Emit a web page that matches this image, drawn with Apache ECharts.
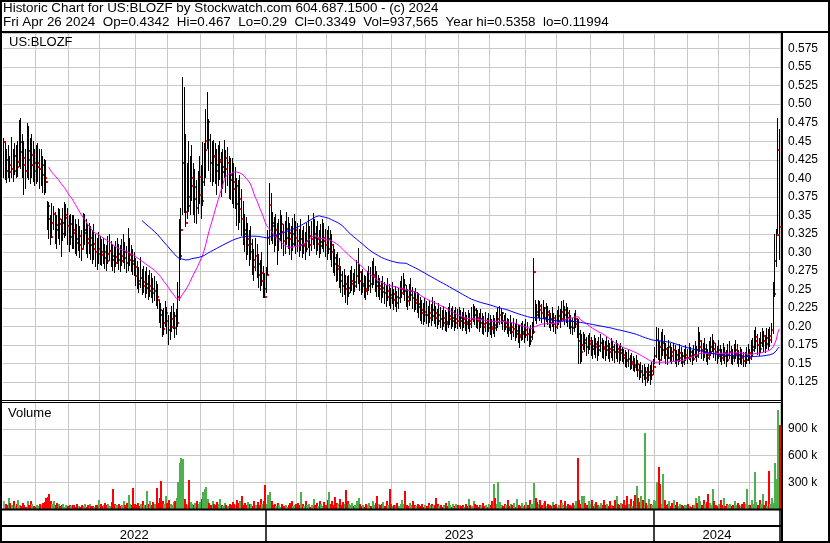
<!DOCTYPE html>
<html><head><meta charset="utf-8">
<script src="https://cdn.jsdelivr.net/npm/echarts@6/dist/echarts.min.js"></script>
<style>html,body{margin:0;padding:0;background:#fff}#chart{width:830px;height:543px}</style>
</head><body><div id="chart"></div>
<script>
const FONT = '"Liberation Sans", Arial, sans-serif';
const headerLine1 = 'Historic Chart for US:BLOZF by Stockwatch.com 604.687.1500 - (c) 2024';
const headerLine2 = 'Fri Apr 26 2024  Op=0.4342  Hi=0.467  Lo=0.29  Cl=0.3349  Vol=937,565  Year hi=0.5358  lo=0.11994';
const symbolLabel = 'US:BLOZF';
const volumeLabel = 'Volume';

// trading days: weekdays 2022-05-02 .. 2024-04-26 minus market holidays
const firstDay = '2022-05-02';
const lastDay = '2024-04-26';
const holidays = ['2022-05-30','2022-06-20','2022-07-04','2022-09-05','2022-11-24','2022-12-26',
  '2023-01-02','2023-01-16','2023-02-20','2023-04-07','2023-05-29','2023-06-19','2023-07-04','2023-09-04','2023-11-23','2023-12-25',
  '2024-01-01','2024-01-15','2024-02-19','2024-03-29'];

// prices in thousandths of a dollar
const highMil = [
455,450,440,445,430,456,440,448,445,450,478,481,460,450,440,474,470,455,460,450,440,445,448,440,440,430,426,425,
370,368,350,366,362,355,350,360,358,345,360,368,365,360,350,352,350,
350,345,338,345,335,330,353,352,345,338,340,335,330,338,325,320,328,322,
318,320,312,310,322,325,315,312,308,316,320,312,310,318,325,314,308,333,320,310,305,300,
292,288,280,294,278,282,275,280,270,276,272,265,268,262,258,
236,232,222,225,235,226,215,220,228,232,220,224,
260,345,360,536,523,460,420,450,430,445,
420,412,398,410,430,418,449,448,
494,516,480,460,450,
452,448,440,445,450,435,440,452,438,442,430,428,
428,420,415,400,398,405,385,370,352,
348,340,330,335,318,305,320,312,298,290,300,282,272,
280,330,393,380,355,348,352,340,345,357,350,338,342,355,348,340,335,346,352,343,
340,332,345,330,336,328,340,350,335,342,353,345,335,342,330,338,345,340,332,330,
335,330,325,312,305,298,300,292,282,275,278,270,268,
270,276,282,272,278,290,306,285,275,278,270,268,275,282,280,288,293,282,275,
270,266,262,268,260,256,265,258,252,260,250,255,248,252,262,268,272,264,256,250,258,266,254,248,252,246,
245,240,236,232,238,234,228,236,230,240,235,228,224,232,226,222,228,222,220,226,232,225,228,222,226,224,
226,222,220,225,220,216,222,218,226,230,228,225,222,218,224,218,214,220,212,218,215,210,216,212,220,225,228,223,220,
215,218,212,210,216,206,212,205,210,204,202,205,208,203,210,206,198,202,206,
292,
236,230,236,234,230,236,226,232,228,222,218,226,218,215,222,228,224,234,236,228,232,226,222,215,212,218,222,
212,210,195,190,
192,190,186,188,191,186,182,188,184,180,186,190,184,182,180,186,182,178,184,180,176,182,178,175,178,
172,170,168,165,168,162,164,160,158,162,155,150,152,148,150,145,146,150,148,152,156,
172,200,198,180,192,196,188,178,172,182,178,172,178,175,168,170,176,172,166,170,
175,170,178,172,168,175,180,174,200,192,182,178,185,176,170,180,186,190,182,178,174,182,175,170,178,172,168,176,180,174,170,176,182,176,168,172,170,165,166,172,176,170,182,
185,195,200,190,184,192,198,194,188,198,196,200,205,
260,325,332,481,467];

const lowMil = [
400,398,394,400,395,400,395,405,400,402,415,412,400,378,385,400,398,392,400,395,390,392,395,385,390,380,378,380,
330,318,310,320,330,312,305,318,310,294,315,320,322,310,300,310,305,
305,298,295,302,292,288,305,310,298,292,298,290,285,290,280,276,285,283,
282,285,278,275,284,288,280,275,272,280,284,276,274,282,286,278,272,275,282,274,270,268,
255,250,245,252,242,245,238,244,236,240,238,232,234,228,224,
205,198,186,188,200,190,175,182,192,196,184,188,
200,235,290,350,353,334,345,355,350,370,
350,340,338,352,365,345,362,390,
400,440,410,395,390,
395,392,378,390,398,375,385,400,380,390,372,371,
365,360,358,335,330,340,322,310,300,
290,296,282,290,270,262,275,265,252,248,255,238,238,
245,270,310,315,312,300,308,283,302,315,305,295,298,310,305,296,290,302,308,298,
300,294,302,292,298,290,300,306,295,302,310,305,296,302,292,298,305,300,294,290,
298,290,280,272,268,260,262,252,245,240,242,232,229,
240,245,248,242,246,252,258,248,242,245,238,236,242,248,245,252,256,246,240,
240,236,232,238,230,226,234,228,224,230,222,226,220,224,232,238,242,234,226,222,228,234,224,220,222,218,
212,208,204,202,206,203,200,205,201,208,204,200,196,202,198,195,200,194,192,198,202,196,200,194,198,196,
200,196,194,198,194,190,196,192,198,206,202,198,196,192,198,190,188,192,186,192,188,185,190,186,194,198,202,204,195,
192,195,190,186,190,182,186,180,184,178,171,180,182,178,185,180,172,175,182,
190,
208,204,212,208,205,210,200,206,202,198,194,200,192,190,196,202,198,206,208,202,205,200,196,190,188,192,198,
185,150,150,152,
168,165,160,163,168,160,156,162,158,154,160,165,158,156,153,160,156,152,158,154,151,156,152,150,154,
152,150,146,144,146,142,143,140,138,140,132,128,130,124,128,120,124,126,121,128,134,
150,158,155,148,154,160,156,150,148,156,152,150,154,150,146,148,152,150,145,148,
154,150,155,152,148,153,158,152,158,165,156,154,158,152,148,155,160,165,158,154,150,156,152,148,154,150,146,152,156,150,148,152,156,150,146,150,148,145,146,150,154,150,155,
160,165,170,162,160,164,172,166,164,170,168,173,178,
190,240,280,325,290];

const closeMil = [
449,425,410,418,409,412,410,430,415,422,449,435,428,418,410,437,425,418,432,420,410,415,420,412,418,405,400,395,
362,345,321,340,352,337,330,345,338,325,340,347,350,335,321,338,330,
326,318,313,322,310,305,326,330,318,313,320,310,305,312,300,298,305,300,
296,300,292,288,298,302,295,290,286,294,298,290,288,295,300,292,286,290,296,288,285,280,
268,262,258,265,255,260,252,258,248,255,250,245,248,240,236,
222,215,196,205,218,208,195,200,210,214,198,205,
240,295,330,420,355,340,375,362,389,400,
372,388,360,378,402,370,395,438,
450,476,452,420,430,
429,418,410,422,425,408,415,428,412,420,405,398,
395,385,390,365,358,372,345,330,325,
310,318,300,312,290,280,295,285,270,262,272,250,240,
270,320,364,340,335,322,330,318,325,338,328,315,320,332,326,318,312,325,330,320,
316,310,318,308,312,305,315,322,310,318,325,320,312,318,308,314,320,315,310,305,
318,310,300,292,285,278,282,270,262,255,258,250,245,
252,258,262,255,260,268,273,262,255,258,250,248,255,262,258,268,270,260,255,
255,250,246,252,245,240,248,242,238,244,236,240,232,238,245,250,256,248,240,235,242,248,238,232,236,230,
226,222,218,215,220,216,212,218,214,222,218,212,208,215,210,205,212,206,203,210,214,208,212,205,210,208,
212,208,205,210,206,203,208,204,210,222,216,212,208,205,210,203,200,205,198,204,200,196,202,198,206,210,215,218,208,
200,205,198,195,200,192,196,190,194,188,186,190,192,188,195,190,180,186,192,
274,
220,215,228,222,218,225,212,220,215,210,205,212,203,200,208,214,210,220,222,215,218,212,208,200,198,204,210,
190,180,165,175,
182,178,172,176,180,174,170,176,172,168,174,178,172,170,168,174,170,166,172,168,165,170,166,164,168,
162,158,155,153,156,150,152,148,146,150,142,138,140,135,138,131,135,138,135,140,145,
160,182,172,155,168,178,170,162,158,172,165,160,168,162,155,158,164,160,152,158,
162,158,165,160,156,162,168,160,172,180,168,165,170,162,158,166,172,178,170,165,160,168,162,158,164,160,155,162,166,160,158,163,168,162,156,160,158,153,155,160,164,158,168,
172,180,186,175,170,178,187,180,176,185,182,187,195,
244,288,324,438,334.9];

// daily volume in thousands of shares
const volumeK = [
95,60,45,120,70,40,85,35,55,100,50,30,65,40,25,90,45,95,60,35,20,45,30,55,40,65,75,120,
130,170,90,60,95,40,70,55,30,45,60,25,40,35,50,30,45,
40,25,55,35,20,45,30,60,25,40,55,30,35,20,50,45,100,60,
35,50,70,40,55,30,80,225,60,40,45,60,35,50,90,45,70,160,55,40,240,60,
45,70,30,55,90,50,40,205,60,95,45,80,60,240,70,
120,317,90,60,150,70,100,55,40,80,95,120,
306,520,568,560,110,60,45,320,80,55,
40,70,95,60,80,110,195,225,245,110,70,45,90,
60,40,75,55,110,50,35,70,45,30,55,40,
80,60,45,100,65,90,150,50,70,
45,80,55,60,30,95,50,75,40,110,60,85,270,
60,157,194,90,40,55,30,70,45,25,60,35,50,20,40,65,90,30,45,55,
70,40,194,55,30,85,45,60,25,50,110,40,70,35,90,55,30,80,45,100,
194,60,95,40,130,70,55,110,45,80,60,213,90,
55,40,70,30,50,85,120,60,35,45,25,55,40,65,30,95,50,70,150,
60,40,55,80,35,90,45,225,60,30,50,40,70,35,55,100,60,200,45,30,65,40,85,50,35,60,
45,30,60,25,50,35,70,40,55,30,45,120,60,35,50,25,40,65,30,90,45,20,55,35,60,40,
50,30,45,25,60,35,110,45,30,90,60,40,25,50,35,70,30,45,20,55,40,90,280,120,60,306,80,45,35,
60,40,100,30,55,45,70,25,110,50,35,65,30,45,80,40,100,55,60,
295,
120,80,55,100,40,70,90,35,60,45,30,75,40,55,25,50,100,65,40,85,30,60,45,35,70,50,90,
576,100,60,150,
150,70,40,90,55,100,35,60,80,45,30,70,50,100,40,60,35,90,45,30,100,145,60,40,70,
55,100,45,145,60,110,35,90,160,258,120,80,150,100,852,70,45,110,60,40,100,
90,306,474,280,60,390,100,40,55,90,30,70,100,45,80,35,60,40,30,50,
45,60,35,25,50,40,120,70,150,90,45,100,60,80,165,70,40,225,90,50,30,60,100,45,120,35,55,40,60,30,45,90,50,70,40,35,55,80,60,225,50,40,100,
60,410,80,45,100,55,165,40,90,35,425,60,120,
70,519,336,1110,937.565];

const maShort = 30, maLong = 90;

function buildDates() {
  const out = [];
  let t = Date.parse(firstDay + 'T00:00:00Z');
  const end = Date.parse(lastDay + 'T00:00:00Z');
  while (t <= end) {
    const d = new Date(t);
    const wd = d.getUTCDay();
    const s = d.toISOString().slice(0, 10);
    if (wd !== 0 && wd !== 6 && holidays.indexOf(s) < 0) out.push(s);
    t += 86400000;
  }
  return out;
}
const dates = buildDates();
const N = dates.length;
[highMil, lowMil, closeMil, volumeK].forEach((a, k) => {
  if (a.length !== N) throw new Error('length mismatch ' + k + ': ' + a.length + ' vs ' + N);
});

const high = highMil.map(v => v / 1000);
const low = lowMil.map(v => v / 1000);
const close = closeMil.map(v => v / 1000);
const volume = volumeK.map(v => v * 1000);

function sma(arr, n) {
  const out = [];
  let sum = 0;
  for (let i = 0; i < arr.length; i++) {
    sum += arr[i];
    if (i >= n) sum -= arr[i - n];
    out.push(i >= n - 1 ? +(sum / n).toFixed(5) : null);
  }
  return out;
}
const maS = sma(close, maShort);
const maL = sma(close, maLong);

const monthStart = new Set();
const yearStart = new Set();
const yearMid = new Set();
let segStart = 0;
for (let i = 1; i <= N; i++) {
  if (i < N && dates[i].slice(0, 7) !== dates[i - 1].slice(0, 7)) monthStart.add(i);
  if (i === N || dates[i].slice(0, 4) !== dates[i - 1].slice(0, 4)) {
    if (i < N) yearStart.add(i);
    yearMid.add(Math.floor((segStart + i - 1) / 2));
    segStart = i;
  }
}

const ohlc = dates.map((d, i) => [i, high[i], low[i], close[i]]);
const volColor = volume.map((v, i) => {
  if (i > 0 && close[i] > close[i - 1]) return '#4cb04c';
  if (i > 0 && close[i] < close[i - 1]) return '#ff0000';
  return '#a0a0a0';
});
const volData = volume.map((v, i) => [i, v]);

function priceLabel(v) {
  const s = v.toFixed(3);
  return s.charAt(s.length - 1) === '0' ? v.toFixed(2) : s;
}

const GRID_COLOR = '#c8c8c8';
const chart = echarts.init(document.getElementById('chart'), null, { renderer: 'canvas' });
const txt = { fontFamily: FONT, fontSize: 12, fontWeight: 'normal', color: '#000' };

const L = (x1, y1, x2, y2, w) => ({ type: 'line', z: 100, shape: { x1, y1, x2, y2 }, style: { stroke: '#000', lineWidth: w } });

chart.setOption({
  animation: false,
  backgroundColor: '#fff',
  title: [
    { text: headerLine1, left: 3, top: 2, padding: 0, textStyle: Object.assign({}, txt, { fontSize: 13.4 }) },
    { text: headerLine2, left: 3, top: 16, padding: 0, textStyle: Object.assign({}, txt, { fontSize: 13.4 }) },
    { text: symbolLabel, left: 9, top: 36, padding: 0, textStyle: Object.assign({}, txt, { fontSize: 13 }) },
    { text: volumeLabel, left: 8, top: 407, padding: 0, textStyle: Object.assign({}, txt, { fontSize: 13 }) }
  ],
  grid: [
    { left: 3, top: 33, width: 777, height: 367.65 },
    { left: 3, top: 402, width: 777, height: 107 }
  ],
  xAxis: [
    { type: 'category', gridIndex: 0, data: dates, boundaryGap: true,
      axisLine: { show: false }, axisTick: { show: false }, axisLabel: { show: false },
      splitLine: { show: true, interval: (i) => monthStart.has(i), lineStyle: { color: GRID_COLOR, width: 1 } } },
    { type: 'category', gridIndex: 1, data: dates, boundaryGap: true,
      axisLine: { show: false },
      axisTick: { show: true, interval: (i) => yearStart.has(i), length: 32, lineStyle: { color: '#000', width: 1.5 } },
      axisLabel: { show: true, interval: (i) => yearMid.has(i), formatter: (v) => v.slice(0, 4), margin: 20,
        fontFamily: FONT, fontSize: 13, color: '#000', hideOverlap: false },
      splitLine: { show: true, interval: (i) => monthStart.has(i), lineStyle: { color: GRID_COLOR, width: 1 } } }
  ],
  yAxis: [
    { type: 'value', gridIndex: 0, position: 'right', min: 0.1, max: 0.596, interval: 0.025,
      axisLine: { show: false }, axisTick: { show: false },
      axisLabel: { formatter: priceLabel, margin: 8, fontFamily: FONT, fontSize: 12, color: '#000', showMinLabel: false, showMaxLabel: false },
      splitLine: { show: true, lineStyle: { color: GRID_COLOR, width: 1 } } },
    { type: 'value', gridIndex: 1, position: 'right', min: 0, max: 1200000, interval: 300000,
      axisLine: { show: false }, axisTick: { show: false },
      axisLabel: { formatter: (v) => (v / 1000) + ' k', margin: 8, fontFamily: FONT, fontSize: 12, color: '#000', showMinLabel: false, showMaxLabel: false },
      splitLine: { show: true, lineStyle: { color: GRID_COLOR, width: 1 } } }
  ],
  series: [
    { type: 'custom', name: 'price', xAxisIndex: 0, yAxisIndex: 0, data: ohlc, z: 2,
      encode: { x: 0, y: [1, 2, 3] },
      renderItem: function (params, api) {
        const i = api.value(0);
        const h = api.coord([i, api.value(1)]);
        const l = api.coord([i, api.value(2)]);
        const c = api.coord([i, api.value(3)]);
        const px = Math.floor(h[0]) + 0.5;
        return { type: 'group', children: [
          { type: 'line', shape: { x1: px, y1: Math.round(h[1]), x2: px, y2: Math.round(l[1]) }, style: { stroke: '#000', lineWidth: 1 } },
          { type: 'rect', shape: { x: px + 0.5, y: Math.round(c[1]) - 1, width: 2, height: 2 }, style: { fill: '#ff0000' } }
        ] };
      } },
    { type: 'line', name: 'MA30', xAxisIndex: 0, yAxisIndex: 0, data: maS, z: 3,
      showSymbol: false, connectNulls: false, lineStyle: { color: '#ff00ff', width: 1 } },
    { type: 'line', name: 'MA90', xAxisIndex: 0, yAxisIndex: 0, data: maL, z: 3,
      showSymbol: false, connectNulls: false, lineStyle: { color: '#0000ff', width: 1 } },
    { type: 'custom', name: 'Volume', xAxisIndex: 1, yAxisIndex: 1, data: volData, z: 2,
      encode: { x: 0, y: 1 },
      renderItem: function (params, api) {
        const i = api.value(0);
        const top = api.coord([i, api.value(1)]);
        const base = api.coord([i, 0]);
        const x0 = Math.floor(top[0]) - 0;
        const y0 = Math.round(top[1]);
        return { type: 'rect', shape: { x: x0, y: y0, width: 2, height: Math.round(base[1]) - y0 },
          style: { fill: volColor[params.dataIndex] } };
      } }
  ],
  graphic: [
    { type: 'rect', z: 100, shape: { x: 1, y: 1, width: 828, height: 541 }, style: { fill: 'none', stroke: '#000', lineWidth: 2 } },
    L(0, 32, 830, 32, 2),
    L(782, 33, 782, 542, 2),
    L(0, 400.5, 782, 400.5, 1),
    L(0, 402.5, 782, 402.5, 1),
    L(0, 509.5, 782, 509.5, 2),
    L(0, 526, 782, 526, 2)
  ]
});
</script></body></html>
